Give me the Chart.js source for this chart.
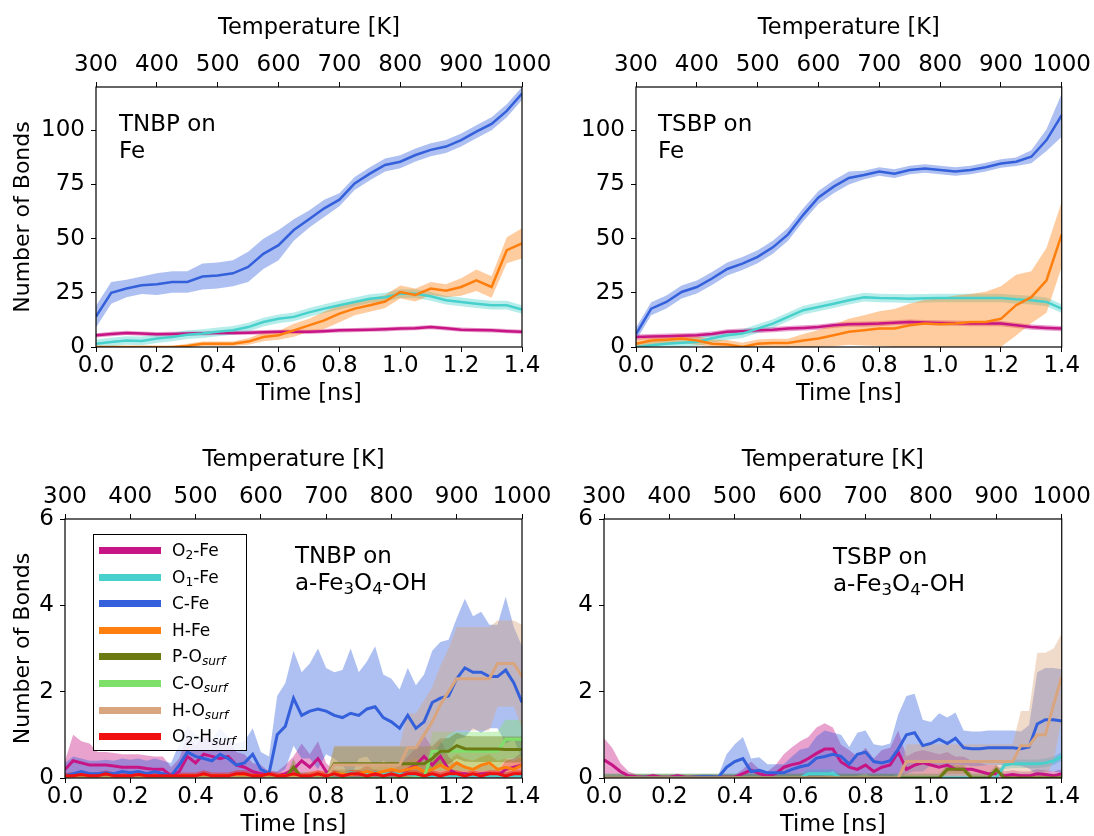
<!DOCTYPE html>
<html>
<head>
<meta charset="utf-8">
<script src="https://cdn.jsdelivr.net/npm/chart.js@4.4.0/dist/chart.umd.min.js"></script>
<style>
  html, body { margin: 0; padding: 0; background: #fff; overflow: hidden; }
  #page { position: relative; width: 1094px; height: 836px; overflow: hidden; font-family: "DejaVu Sans", sans-serif; }
  canvas { position: absolute; }
  .note { position: absolute; font-size: 23px; line-height: 26.5px; color: #000; white-space: nowrap; }
  sub { font-size: 0.72em; line-height: 0; vertical-align: -0.25em; }
  #legend { position: absolute; left: 93px; top: 534px; width: 152px; height: 215px; border: 1.5px solid #000;
            background: rgba(255,255,255,0.85); font-size: 17px; color: #000; }
  .row { position: absolute; left: 0; height: 20px; }
  .swatch { position: absolute; left: 5px; width: 62px; height: 7px; }
  .lab { position: absolute; left: 78px; white-space: nowrap; line-height: 20px; }
</style>
</head>
<body>
<div id="page"></div>
<script>
// series shown in the legend (HTML so the subscripts stay real text)
const seriesNames = ['O<sub>2</sub>-Fe', 'O<sub>1</sub>-Fe', 'C-Fe', 'H-Fe',
  'P-O<sub><i>surf</i></sub>', 'C-O<sub><i>surf</i></sub>', 'H-O<sub><i>surf</i></sub>', 'O<sub>2</sub>-H<sub><i>surf</i></sub>'];
const seriesColors = ['#C71585', '#48D1CC', '#3461DB', '#FF7F0E', '#6B7B12', '#7FE069', '#D9A57E', '#F01010'];

// time grids [ns]
const timeFe = [0, 0.05, 0.1, 0.15, 0.2, 0.25, 0.3, 0.35, 0.4, 0.45, 0.5, 0.55, 0.6, 0.65, 0.7,
  0.75, 0.8, 0.85, 0.9, 0.95, 1.0, 1.05, 1.1, 1.15, 1.2, 1.25, 1.3, 1.35, 1.4];
const timeOx = [0, 0.025, 0.05, 0.075, 0.1, 0.125, 0.15, 0.175, 0.2, 0.225, 0.25, 0.275, 0.3, 0.325,
  0.35, 0.375, 0.4, 0.425, 0.45, 0.475, 0.5, 0.525, 0.55, 0.575, 0.6, 0.625, 0.65, 0.675, 0.7, 0.725,
  0.75, 0.775, 0.8, 0.825, 0.85, 0.875, 0.9, 0.925, 0.95, 0.975, 1.0, 1.025, 1.05, 1.075, 1.1, 1.125,
  1.15, 1.175, 1.2, 1.225, 1.25, 1.275, 1.3, 1.325, 1.35, 1.375, 1.4];

const tempTicks = [300, 1000, 100];   // min, max, step of the top axis
const timeTicks = [0, 1.4, 0.2];

// ---- TNBP on Fe ----
const tnbpFeO2 = [5.4, 6, 6.5, 6.2, 5.9, 6, 6.2, 6.3, 6.5, 6.5, 6.6, 6.8, 7, 7, 7, 7.3, 7.7, 7.8, 8, 8.2, 8.5, 8.7, 9.2, 8.6, 8, 7.8, 7.7, 7.3, 7];
const tnbpFeO1 = [1.5, 2.3, 3, 2.8, 3.9, 4.6, 5.7, 6.2, 7, 7.7, 9.2, 11.5, 13, 13.9, 16, 17.7, 19.3, 20.8, 22.3, 23, 24.6, 24.6, 23.4, 21.6, 20.8, 20, 19.3, 19.3, 17.3];
const tnbpFeC = [14, 25, 27, 28.5, 29, 30, 30, 32.5, 33, 34, 37, 43, 47, 54, 59, 64, 68, 75.5, 80, 84, 85.5, 88.6, 91, 92.5, 95.5, 99.4, 103, 109, 117];
const tnbpFeCSd = [5, 5, 4, 4, 5, 5, 5, 6, 6, 6, 7, 7, 7, 5, 4, 4, 3, 3, 3, 3, 3, 3, 3, 3, 3, 3, 3, 3, 3];
const tnbpFeH = [0, 0, 0, 0, 0, 0, 0.5, 1.5, 1.5, 1.5, 2.5, 4.6, 5.4, 7.7, 10, 12.3, 15.4, 17.7, 19.3, 21, 25.4, 24, 27, 26, 27.7, 30.8, 27.7, 44.7, 47.8];
const tnbpFeHSd = [0.5, 0.5, 0.5, 0.5, 0.5, 0.5, 1, 1, 1, 1, 1.5, 2, 2, 3, 3, 4, 4, 3, 3, 3, 3, 3, 3, 3, 4, 5, 5, 6, 7];

// ---- TSBP on Fe ----
const tsbpFeO2 = [4.6, 4.8, 5, 5.2, 5.4, 6, 7, 7.3, 7.7, 8, 8.5, 8.8, 9.2, 10, 10.5, 10.6, 10.8, 11.2, 11.5, 11.3, 11.1, 11, 10.8, 10.8, 10.8, 10, 9.2, 8.8, 8.5];
const tsbpFeO1 = [0, 0.8, 1.5, 2, 2.3, 4, 5.4, 6.2, 8.5, 10.8, 13.9, 17, 18.5, 20, 21.6, 23, 22.6, 22.5, 22.3, 22.5, 22.6, 22.6, 22.6, 22.6, 22.6, 22, 21.6, 20.8, 17.7];
const tsbpFeC = [6, 17.7, 20.8, 25.4, 27.7, 31.6, 36, 38.5, 41.6, 46, 52, 61, 69, 74, 78, 79.4, 81, 80, 81.7, 82.4, 81.7, 81, 81.7, 83, 84.7, 85.5, 87.8, 95.5, 107];
const tsbpFeCSd = [3, 3, 3, 3, 3, 3, 3, 3, 3, 3, 3, 3, 3, 3, 3, 2, 2, 2, 2, 2, 2, 2, 2, 2, 2, 2, 3, 5, 10];
const tsbpFeH = [1.5, 3, 3.4, 3.9, 3, 1.5, 1.2, 0, 1.5, 1.8, 1.8, 3, 3.9, 5.4, 7, 7.7, 8.5, 8.5, 10, 10.8, 10.5, 10.8, 11.5, 11.5, 13, 19.3, 23, 30.8, 52];
const tsbpFeHSd = [2, 2, 2, 2, 2, 2, 2, 2, 2, 2, 2, 3, 4, 5, 6, 7, 8, 9, 10, 11, 12, 13, 13, 14, 15, 14, 12, 15, 15];

// ---- TNBP on a-Fe3O4-OH ----
const tnbpOxO2 = [0.20, 0.40, 0.35, 0.30, 0.30, 0.30, 0.28, 0.25, 0.25, 0.25,
  0.22, 0.20, 0.20, 0.05, 0.15, 0.50, 0.35, 0.55, 0.50, 0.45,
  0.50, 0.30, 0.25, 0.15, 0.10, 0.05, 0.05, 0.10, 0.20, 0.40,
  0.25, 0.45, 0.15, 0.05, 0.05, 0.05, 0.05, 0.10, 0.05, 0.05,
  0.05, 0.10, 0.20, 0.30, 0.50, 0.30, 0.50, 0.20, 0.10, 0.10,
  0.05, 0.10, 0.10, 0.05, 0.20, 0.25, 0.30];
const tnbpOxO2Sd = [0.2, 0.6, 0.5, 0.5, 0.3, 0.3, 0.3, 0.3, 0.3, 0.3,
  0.3, 0.3, 0.3, 0.2, 0.3, 0.5, 0.4, 0.5, 0.4, 0.4,
  0.4, 0.3, 0.3, 0.2, 0.2, 0.1, 0.1, 0.2, 0.3, 0.4,
  0.3, 0.4, 0.2, 0.1, 0.1, 0.1, 0.1, 0.2, 0.1, 0.1,
  0.1, 0.2, 0.3, 0.4, 0.5, 0.4, 0.4, 0.3, 0.2, 0.2,
  0.1, 0.2, 0.2, 0.1, 0.2, 0.2, 0.3];
const tnbpOxO1 = [0, 0, 0, 0, 0, 0, 0, 0, 0, 0,
  0, 0, 0, 0, 0, 0, 0, 0, 0, 0,
  0, 0, 0, 0, 0, 0, 0, 0.02, 0.05, 0.05,
  0.05, 0.05, 0.05, 0.08, 0.1, 0.12, 0.1, 0.1, 0.12, 0.1,
  0.1, 0.1, 0.08, 0.05, 0.05, 0.05, 0.05, 0.05, 0.05, 0.05,
  0.05, 0.05, 0.05, 0.05, 0.05, 0.05, 0.05];
const tnbpOxC = [0.05, 0.10, 0.15, 0.10, 0.10, 0.12, 0.10, 0.15, 0.12, 0.15,
  0.10, 0.15, 0.10, 0.05, 0.30, 0.60, 0.50, 0.45, 0.40, 0.55,
  0.45, 0.30, 0.35, 0.55, 0.20, 0.10, 1.00, 1.20, 1.85, 1.45,
  1.55, 1.60, 1.55, 1.45, 1.40, 1.50, 1.45, 1.60, 1.65, 1.40,
  1.30, 1.15, 1.45, 1.15, 1.30, 1.75, 1.85, 1.90, 2.30, 2.55,
  2.45, 2.45, 2.35, 2.35, 2.50, 2.20, 1.75];
const tnbpOxCSd = [0.3, 0.4, 0.3, 0.3, 0.3, 0.3, 0.3, 0.3, 0.3, 0.3,
  0.3, 0.3, 0.3, 0.3, 0.5, 0.6, 0.5, 0.5, 0.5, 0.6,
  0.5, 0.5, 0.5, 0.6, 0.4, 0.4, 0.9, 1.0, 1.1, 1.0,
  1.1, 1.4, 1.0, 1.0, 1.1, 1.5, 1.0, 1.1, 1.4, 1.0,
  1.0, 0.9, 1.1, 1.0, 1.1, 1.2, 1.3, 1.3, 1.4, 1.6,
  1.3, 1.4, 1.2, 1.2, 1.7, 1.3, 1.3];
const tnbpOxH = [0.02, 0.02, 0.02, 0.02, 0.02, 0.02, 0.02, 0.02, 0.02, 0.02,
  0.02, 0.02, 0.02, 0.02, 0.05, 0.05, 0.05, 0.05, 0.05, 0.05,
  0.05, 0.05, 0.05, 0.05, 0.05, 0.05, 0.05, 0.05, 0.05, 0.05,
  0.05, 0.08, 0.05, 0.1, 0.1, 0.08, 0.1, 0.15, 0.1, 0.15,
  0.2, 0.15, 0.2, 0.25, 0.15, 0.2, 0.3, 0.2, 0.35, 0.25,
  0.2, 0.3, 0.35, 0.2, 0.25, 0.2, 0.3];
const tnbpOxHSd = [0.05, 0.05, 0.05, 0.05, 0.05, 0.05, 0.05, 0.05, 0.05, 0.05,
  0.05, 0.05, 0.05, 0.05, 0.05, 0.05, 0.05, 0.05, 0.05, 0.05,
  0.05, 0.05, 0.05, 0.05, 0.05, 0.05, 0.05, 0.05, 0.05, 0.05,
  0.1, 0.1, 0.1, 0.1, 0.1, 0.1, 0.1, 0.15, 0.15, 0.15,
  0.2, 0.2, 0.2, 0.2, 0.2, 0.2, 0.2, 0.2, 0.2, 0.2,
  0.2, 0.2, 0.2, 0.2, 0.2, 0.2, 0.2];
const tnbpOxPO = [0, 0, 0, 0, 0, 0, 0, 0, 0, 0,
  0, 0, 0, 0, 0, 0, 0, 0, 0, 0,
  0, 0, 0, 0, 0, 0, 0, 0, 0.25, 0,
  0, 0, 0, 0.33, 0.33, 0.33, 0.33, 0.33, 0.33, 0.33,
  0.33, 0.33, 0.33, 0.33, 0.33, 0.45, 0.62, 0.62, 0.75, 0.68,
  0.67, 0.67, 0.67, 0.67, 0.66, 0.66, 0.66];
const tnbpOxPOSd = [0, 0, 0, 0, 0, 0, 0, 0, 0, 0,
  0, 0, 0, 0, 0, 0, 0, 0, 0, 0,
  0, 0, 0, 0, 0, 0, 0, 0, 0.2, 0,
  0, 0, 0, 0.4, 0.4, 0.4, 0.4, 0.4, 0.4, 0.4,
  0.4, 0.4, 0.4, 0.4, 0.4, 0.3, 0.3, 0.3, 0.3, 0.3,
  0.3, 0.3, 0.3, 0.3, 0.3, 0.3, 0.3];
const tnbpOxCO = [0, 0, 0, 0, 0, 0, 0, 0, 0, 0,
  0, 0, 0, 0, 0, 0, 0, 0, 0, 0,
  0, 0, 0, 0, 0, 0, 0, 0, 0, 0,
  0, 0, 0, 0, 0, 0, 0, 0, 0, 0,
  0, 0, 0, 0, 0, 0.62, 0.62, 0.62, 0.62, 0.62,
  0.62, 0.62, 0.62, 0.62, 0.9, 0.9, 0.9];
const tnbpOxCOSd = [0, 0, 0, 0, 0, 0, 0, 0, 0, 0,
  0, 0, 0, 0, 0, 0, 0, 0, 0, 0,
  0, 0, 0, 0, 0, 0, 0, 0, 0, 0,
  0, 0, 0, 0, 0, 0, 0, 0, 0, 0,
  0, 0, 0, 0, 0, 0.45, 0.45, 0.45, 0.45, 0.45,
  0.45, 0.45, 0.45, 0.45, 0.45, 0.45, 0.45];
const tnbpOxHO = [0, 0, 0, 0, 0, 0, 0, 0, 0, 0,
  0, 0, 0, 0, 0, 0, 0, 0, 0, 0,
  0, 0, 0, 0, 0, 0, 0, 0, 0, 0,
  0, 0, 0, 0.3, 0.3, 0.3, 0.3, 0.3, 0.3, 0.3,
  0.3, 0.3, 0.7, 0.7, 1.0, 1.3, 1.7, 2.0, 2.3, 2.3,
  2.3, 2.3, 2.3, 2.65, 2.65, 2.65, 2.35];
const tnbpOxHOSd = [0, 0, 0, 0, 0, 0, 0, 0, 0, 0,
  0, 0, 0, 0, 0, 0, 0, 0, 0, 0,
  0, 0, 0, 0, 0, 0, 0, 0, 0, 0,
  0, 0, 0, 0.45, 0.45, 0.45, 0.45, 0.45, 0.45, 0.45,
  0.45, 0.45, 0.8, 0.8, 0.8, 0.8, 0.9, 1.0, 1.2, 1.2,
  1.2, 1.2, 1.2, 1.0, 1.0, 1.0, 1.2];
const tnbpOxOH = [0.05, 0.05, 0.08, 0.05, 0.05, 0.1, 0.05, 0.05, 0.05, 0.08,
  0.05, 0.05, 0.05, 0.05, 0.05, 0.05, 0.05, 0.1, 0.05, 0.05,
  0.05, 0.1, 0.1, 0.05, 0.05, 0.1, 0.05, 0.05, 0.1, 0.05,
  0.05, 0.1, 0.05, 0.1, 0.05, 0.1, 0.1, 0.05, 0.1, 0.05,
  0.1, 0.05, 0.1, 0.1, 0.05, 0.1, 0.05, 0.1, 0.1, 0.05,
  0.1, 0.05, 0.1, 0.1, 0.05, 0.1, 0.1];

// ---- TSBP on a-Fe3O4-OH ----
const tsbpOxO2 = [0.42, 0.3, 0.15, 0.05, 0.03, 0.02, 0.05, 0.02, 0.02, 0.05,
  0.02, 0.02, 0.02, 0.02, 0.02, 0.02, 0.02, 0.1, 0.18, 0.1,
  0.05, 0.1, 0.25, 0.31, 0.35, 0.45, 0.57, 0.67, 0.67, 0.37,
  0.25, 0.2, 0.3, 0.15, 0.25, 0.3, 0.6, 0.2, 0.3, 0.35,
  0.3, 0.25, 0.3, 0.2, 0.2, 0.2, 0.15, 0.1, 0.1, 0.05,
  0.08, 0.05, 0.05, 0.1, 0.08, 0.05, 0.1];
const tsbpOxO2Sd = [0.5, 0.4, 0.2, 0.1, 0.05, 0.05, 0.05, 0.05, 0.05, 0.05,
  0.05, 0.05, 0.05, 0.05, 0.05, 0.05, 0.05, 0.1, 0.2, 0.1,
  0.1, 0.2, 0.3, 0.4, 0.5, 0.5, 0.6, 0.6, 0.5, 0.4,
  0.4, 0.3, 0.4, 0.3, 0.4, 0.4, 0.5, 0.3, 0.3, 0.3,
  0.3, 0.3, 0.3, 0.3, 0.3, 0.2, 0.2, 0.2, 0.2, 0.1,
  0.1, 0.1, 0.1, 0.1, 0.1, 0.1, 0.1];
const tsbpOxO1 = [0, 0, 0, 0, 0, 0, 0, 0, 0, 0,
  0, 0, 0, 0, 0, 0, 0, 0, 0, 0,
  0, 0, 0, 0, 0, 0.1, 0.1, 0.1, 0.1, 0,
  0, 0, 0, 0, 0, 0, 0, 0, 0, 0,
  0, 0, 0, 0, 0, 0, 0, 0, 0, 0.3,
  0.33, 0.33, 0.33, 0.33, 0.35, 0.4, 0.5];
const tsbpOxC = [0, 0, 0, 0, 0, 0.02, 0, 0, 0, 0.02,
  0, 0.02, 0.03, 0.03, 0.02, 0.25, 0.38, 0.45, 0.15, 0.18,
  0.12, 0.12, 0.12, 0.2, 0.26, 0.3, 0.46, 0.5, 0.55, 0.5,
  0.32, 0.55, 0.6, 0.38, 0.35, 0.4, 0.67, 1.0, 1.05, 0.75,
  0.8, 0.9, 0.8, 0.92, 0.7, 0.68, 0.68, 0.7, 0.7, 0.7,
  0.7, 0.68, 0.72, 1.25, 1.35, 1.35, 1.32];
const tsbpOxCSd = [0.05, 0.05, 0.05, 0.05, 0.05, 0.05, 0.05, 0.05, 0.05, 0.05,
  0.05, 0.05, 0.05, 0.05, 0.05, 0.3, 0.4, 0.5, 0.3, 0.3,
  0.2, 0.2, 0.2, 0.3, 0.4, 0.4, 0.5, 0.6, 0.5, 0.5,
  0.4, 0.5, 0.5, 0.4, 0.4, 0.4, 0.8, 0.9, 0.9, 0.6,
  0.5, 0.6, 0.6, 0.6, 0.4, 0.4, 0.4, 0.4, 0.4, 0.4,
  0.4, 0.4, 0.5, 1.2, 1.2, 1.2, 1.2];
const tsbpOxPO = [0, 0, 0, 0, 0, 0, 0, 0, 0, 0,
  0, 0, 0, 0, 0, 0, 0, 0, 0, 0,
  0, 0, 0, 0, 0, 0, 0, 0, 0, 0,
  0, 0, 0, 0, 0, 0, 0, 0, 0, 0,
  0, 0, 0.2, 0.2, 0.2, 0, 0, 0, 0.2, 0,
  0, 0, 0, 0, 0, 0, 0];
const tsbpOxHO = [0, 0, 0, 0, 0, 0, 0, 0, 0, 0,
  0, 0, 0, 0, 0, 0, 0, 0, 0, 0,
  0, 0, 0, 0, 0, 0, 0, 0, 0, 0,
  0, 0, 0, 0, 0, 0, 0, 0.38, 0.38, 0.38,
  0.38, 0.38, 0.38, 0.38, 0.38, 0.38, 0.38, 0.38, 0.38, 0.38,
  0.38, 0.75, 0.75, 1.0, 1.0, 1.7, 2.35];
const tsbpOxHOSd = [0, 0, 0, 0, 0, 0, 0, 0, 0, 0,
  0, 0, 0, 0, 0, 0, 0, 0, 0, 0,
  0, 0, 0, 0, 0, 0, 0, 0, 0, 0,
  0, 0, 0, 0, 0, 0, 0, 0.4, 0.4, 0.4,
  0.4, 0.4, 0.4, 0.4, 0.4, 0.4, 0.4, 0.4, 0.4, 0.4,
  0.4, 0.8, 0.8, 1.9, 1.9, 1.3, 1.0];

// s = index into seriesNames / seriesColors; listed in drawing order
const panels = [
  { left: 0, top: 0, w: 560, h: 432, yW: 96, padR: 38, botH: 61, padB: 24, ymax: 120, ystep: 25, yTitle: true, lw: 2.5,
    time: timeFe, note: 'TNBP on<br>Fe', noteX: 119, noteY: 110,
    series: [ { s: 0, mean: tnbpFeO2, sd: 1 }, { s: 1, mean: tnbpFeO1, sd: 2 },
              { s: 2, mean: tnbpFeC, sd: tnbpFeCSd }, { s: 3, mean: tnbpFeH, sd: tnbpFeHSd } ] },
  { left: 540, top: 0, w: 554, h: 432, yW: 96, padR: 32, botH: 61, padB: 24, ymax: 120, ystep: 25, yTitle: false, lw: 2.5,
    time: timeFe, note: 'TSBP on<br>Fe', noteX: 658, noteY: 110,
    series: [ { s: 0, mean: tsbpFeO2, sd: 1.2 }, { s: 1, mean: tsbpFeO1, sd: 2 },
              { s: 2, mean: tsbpFeC, sd: tsbpFeCSd }, { s: 3, mean: tsbpFeH, sd: tsbpFeHSd } ] },
  { left: 0, top: 432, w: 560, h: 407, yW: 65, padR: 38, botH: 61, padB: 0, ymax: 6, ystep: 2, yTitle: true, lw: 3,
    time: timeOx, note: 'TNBP on<br>a-Fe<sub>3</sub>O<sub>4</sub>-OH', noteX: 295, noteY: 542,
    series: [ { s: 0, mean: tnbpOxO2, sd: tnbpOxO2Sd }, { s: 1, mean: tnbpOxO1, sd: 0.08 },
              { s: 2, mean: tnbpOxC, sd: tnbpOxCSd }, { s: 3, mean: tnbpOxH, sd: tnbpOxHSd },
              { s: 5, mean: tnbpOxCO, sd: tnbpOxCOSd }, { s: 4, mean: tnbpOxPO, sd: tnbpOxPOSd },
              { s: 6, mean: tnbpOxHO, sd: tnbpOxHOSd }, { s: 7, mean: tnbpOxOH, sd: 0.08 } ] },
  { left: 540, top: 432, w: 554, h: 407, yW: 64, padR: 32, botH: 61, padB: 0, ymax: 6, ystep: 2, yTitle: false, lw: 3,
    time: timeOx, note: 'TSBP on<br>a-Fe<sub>3</sub>O<sub>4</sub>-OH', noteX: 833, noteY: 543,
    series: [ { s: 0, mean: tsbpOxO2, sd: tsbpOxO2Sd }, { s: 1, mean: tsbpOxO1, sd: 0.1 },
              { s: 2, mean: tsbpOxC, sd: tsbpOxCSd }, { s: 4, mean: tsbpOxPO, sd: 0.1 },
              { s: 6, mean: tsbpOxHO, sd: tsbpOxHOSd } ] }
];

const FONT = '"DejaVu Sans", sans-serif';

function rgba(hex, a) {
  const n = parseInt(hex.slice(1), 16);
  return `rgba(${n >> 16},${(n >> 8) & 255},${n & 255},${a})`;
}

function band(time, mean, sd, sign) {
  return time.map((t, i) => {
    const s = Array.isArray(sd) ? sd[i] : sd;
    return { x: t, y: Math.max(0, mean[i] + sign * s) };
  });
}

// box round the plot area, drawn over the data like matplotlib spines
const framePlugin = {
  id: 'frame',
  afterDatasetsDraw(chart) {
    const { ctx, chartArea: a } = chart;
    ctx.save();
    ctx.strokeStyle = '#000';
    ctx.lineWidth = 1.2;
    ctx.strokeRect(a.left, a.top, a.right - a.left, a.bottom - a.top);
    ctx.restore();
  }
};

function axisStyle(extra) {
  return Object.assign({
    grid: { drawOnChartArea: false, drawTicks: true, tickLength: 5, color: '#000', lineWidth: 1 },
    border: { display: false },
  }, extra);
}

const page = document.getElementById('page');

panels.forEach(p => {
  const canvas = document.createElement('canvas');
  canvas.width = p.w; canvas.height = p.h;
  canvas.style.left = p.left + 'px'; canvas.style.top = p.top + 'px';
  canvas.style.width = p.w + 'px'; canvas.style.height = p.h + 'px';
  page.appendChild(canvas);

  const datasets = [];
  // all bands first, then all mean lines on top
  p.series.forEach(sr => {
    const col = seriesColors[sr.s];
    datasets.push({ data: band(p.time, sr.mean, sr.sd, 1), borderWidth: 0, pointRadius: 0,
      fill: '+1', backgroundColor: rgba(col, 0.4) });
    datasets.push({ data: band(p.time, sr.mean, sr.sd, -1), borderWidth: 0, pointRadius: 0,
      fill: false, backgroundColor: 'transparent' });
  });
  p.series.forEach(sr => {
    datasets.push({ data: p.time.map((t, i) => ({ x: t, y: sr.mean[i] })), borderColor: seriesColors[sr.s],
      borderWidth: p.lw, pointRadius: 0, fill: false, tension: 0 });
  });
  datasets.forEach((d, i) => { d.order = -i; });

  new Chart(canvas, {
    type: 'line',
    data: { datasets },
    options: {
      responsive: false,
      animation: false,
      devicePixelRatio: 1,
      layout: { padding: { left: 0, top: 0, right: p.padR, bottom: p.padB } },
      plugins: { legend: { display: false }, tooltip: { enabled: false } },
      scales: {
        x: axisStyle({
          type: 'linear', position: 'bottom', min: timeTicks[0], max: timeTicks[1],
          afterFit: s => { s.height = p.botH; },
          ticks: { stepSize: timeTicks[2], autoSkip: false, maxRotation: 0, padding: 0, color: '#000',
                   font: { family: FONT, size: 23 }, callback: v => Number(v).toFixed(1) },
          title: { display: true, text: 'Time [ns]', color: '#000', font: { family: FONT, size: 22.5 },
                   padding: { top: 0, bottom: 0 } }
        }),
        xt: axisStyle({
          type: 'linear', position: 'top', min: tempTicks[0], max: tempTicks[1],
          afterFit: s => { s.height = 87; },
          ticks: { stepSize: tempTicks[2], autoSkip: false, maxRotation: 0, padding: 3, color: '#000',
                   font: { family: FONT, size: 23 }, callback: v => String(Math.round(v)) },
          title: { display: true, text: 'Temperature [K]', color: '#000', font: { family: FONT, size: 22.5 },
                   padding: { top: 15, bottom: 0 } }
        }),
        y: axisStyle({
          type: 'linear', position: 'left', min: 0, max: p.ymax,
          afterFit: s => { s.width = p.yW; },
          ticks: { stepSize: p.ystep, includeBounds: false, padding: 6, color: '#000',
                   font: { family: FONT, size: 23 }, callback: v => String(v) },
          title: { display: p.yTitle, text: 'Number of Bonds', color: '#000', font: { family: FONT, size: 22 },
                   padding: { top: 10, bottom: 0 } }
        })
      }
    },
    plugins: [framePlugin]
  });

  const note = document.createElement('div');
  note.className = 'note';
  note.style.left = p.noteX + 'px';
  note.style.top = p.noteY + 'px';
  note.innerHTML = p.note;
  page.appendChild(note);
});

// legend of the lower left panel
const legend = document.createElement('div');
legend.id = 'legend';
seriesNames.forEach((name, i) => {
  const row = document.createElement('div');
  row.className = 'row';
  row.style.top = (5 + i * 26.6) + 'px';
  row.style.width = '150px';
  row.innerHTML = `<div class="swatch" style="top:7px;background:${seriesColors[i]}"></div><div class="lab">${name}</div>`;
  legend.appendChild(row);
});
page.appendChild(legend);
</script>
</body>
</html>
